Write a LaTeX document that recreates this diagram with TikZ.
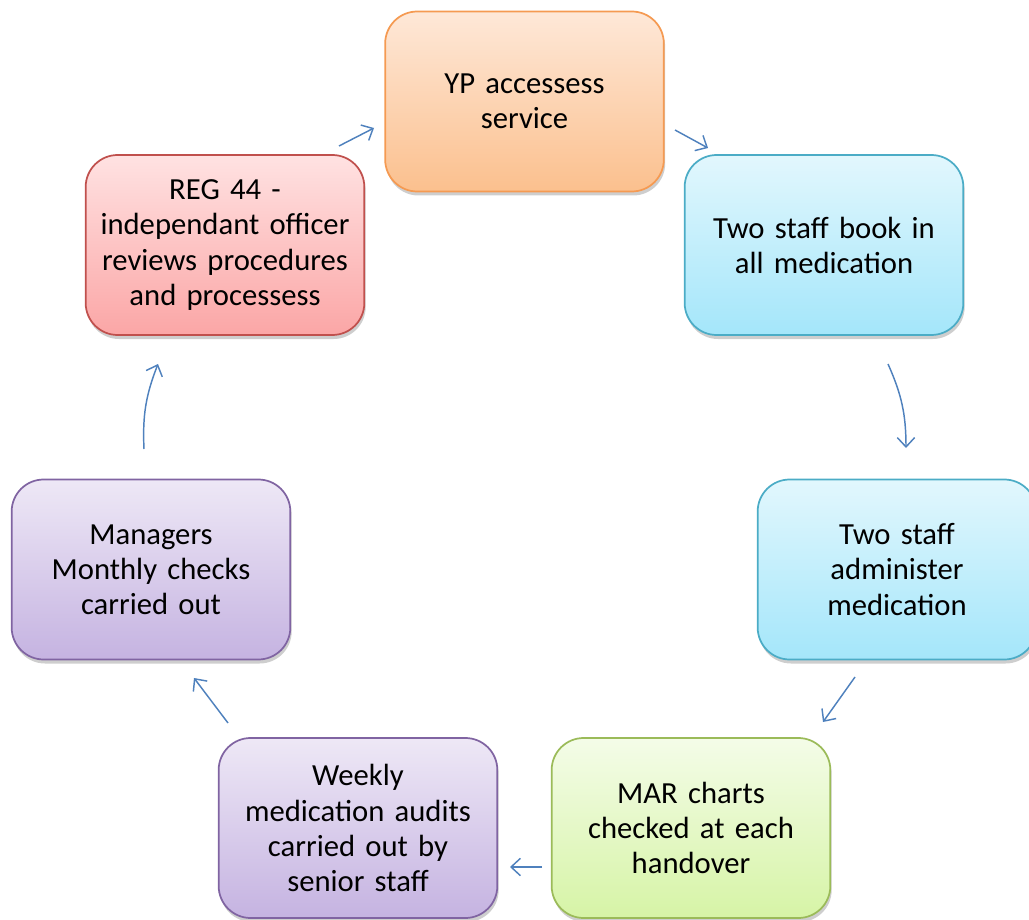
\documentclass[tikz,border=0pt]{standalone}
\usepackage{fontspec}
\setmainfont{Carlito}
\usetikzlibrary{arrows.meta,shadows}

\definecolor{orgline}{HTML}{F59A52}
\definecolor{orgtop}{HTML}{FEE8D8}
\definecolor{orgbot}{HTML}{FBC08E}
\definecolor{bluline}{HTML}{4BACC6}
\definecolor{blutop}{HTML}{E2F7FD}
\definecolor{blubot}{HTML}{A4E6FA}
\definecolor{grnline}{HTML}{9BBB59}
\definecolor{grntop}{HTML}{F4FCE8}
\definecolor{grnbot}{HTML}{D6F4A6}
\definecolor{purline}{HTML}{8064A2}
\definecolor{purtop}{HTML}{EEE8F6}
\definecolor{purbot}{HTML}{C5B3E1}
\definecolor{redline}{HTML}{C0504D}
\definecolor{redtop}{HTML}{FFE2E2}
\definecolor{redbot}{HTML}{FBA6A6}
\definecolor{flowblue}{HTML}{4F81BD}

\begin{document}
\begin{tikzpicture}[
  x=0.75pt, y=-0.75pt,
  every node/.style={inner sep=1pt},
  % the seven steps of the cycle, one colour family each
  stepbox/.style={rounded corners=24pt, line width=1.3pt, minimum width=209pt,
    minimum height=135pt, text width=200pt, align=center,
    font=\fontsize{23}{26.3}\selectfont,
    drop shadow={shadow xshift=1pt, shadow yshift=-3pt, opacity=0.35, fill=black!55}},
  orgbox/.style={stepbox, draw=orgline, top color=orgtop, bottom color=orgbot},
  blubox/.style={stepbox, draw=bluline, top color=blutop, bottom color=blubot},
  grnbox/.style={stepbox, draw=grnline, top color=grntop, bottom color=grnbot},
  purbox/.style={stepbox, draw=purline, top color=purtop, bottom color=purbot},
  redbox/.style={stepbox, draw=redline, top color=redtop, bottom color=redbot},
  flow/.style={draw=flowblue, line width=1.1pt,
    -{Straight Barb[length=7pt, width=13pt, line width=1.1pt]}}]

  \useasboundingbox (0,0) rectangle (1029,920);

  % vertices
  \node[orgbox] (yp)     at (524.5,101.5) {YP accessess\\service};
  \node[blubox] (book)   at (824,245)     {Two staff book in\\all medication};
  \node[blubox] (admin)  at (897,569.5)   {Two staff\\administer\\medication};
  \node[grnbox] (mar)    at (691,828)     {MAR charts\\checked at each\\handover};
  \node[purbox] (weekly) at (358,828)     {Weekly\\medication audits\\carried out by\\senior staff};
  \node[purbox] (mgr)    at (151,569.5)   {Managers\\Monthly checks\\carried out};
  \node[redbox] (reg)    at (225,245)     {REG 44 -\\independant officer\\reviews procedures\\and processess};

  % arrow ends, in the gaps between the boxes
  \coordinate (reg-out)    at (339,146);
  \coordinate (yp-in)      at (374,128);
  \coordinate (yp-out)     at (675,130);
  \coordinate (book-in)    at (708,148);
  \coordinate (book-out)   at (888,364);
  \coordinate (admin-in)   at (906,448);
  \coordinate (admin-out)  at (855,677);
  \coordinate (mar-in)     at (823,722);
  \coordinate (mar-out)    at (542,867);
  \coordinate (weekly-in)  at (510,867);
  \coordinate (weekly-out) at (228,723);
  \coordinate (mgr-in)     at (194,678);
  \coordinate (mgr-out)    at (144,449);
  \coordinate (reg-in)     at (158,364);

  % arrows
  \draw[flow] (reg-out)    -- (yp-in);
  \draw[flow] (yp-out)     -- (book-in);
  \draw[flow] (book-out)   to[bend left=12] (admin-in);
  \draw[flow] (admin-out)  -- (mar-in);
  \draw[flow] (mar-out)    -- (weekly-in);
  \draw[flow] (weekly-out) -- (mgr-in);
  \draw[flow] (mgr-out)    to[bend left=12] (reg-in);
\end{tikzpicture}
\end{document}
